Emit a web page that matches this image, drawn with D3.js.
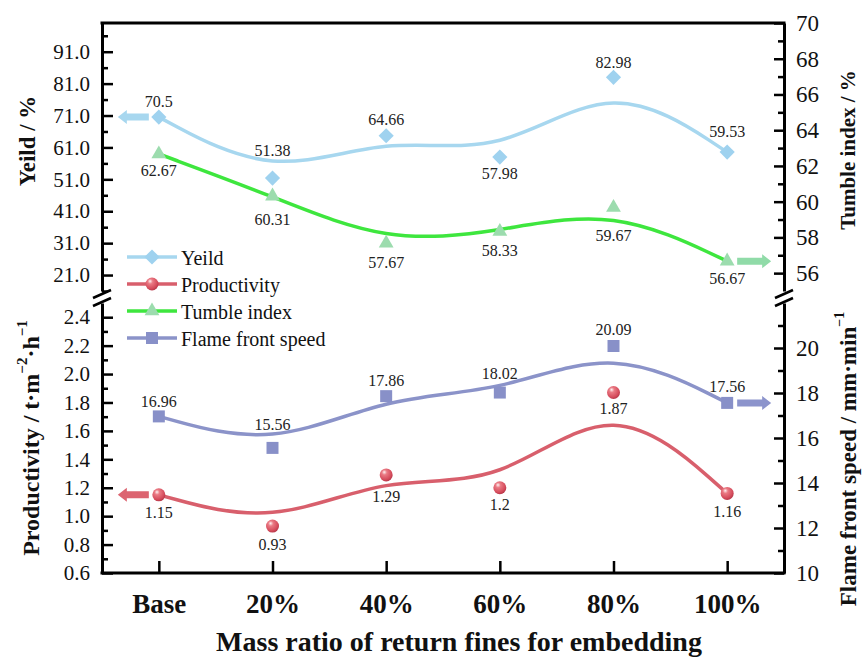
<!DOCTYPE html>
<html>
<head>
<meta charset="utf-8">
<script src="https://cdn.jsdelivr.net/npm/d3@7"></script>
<style>
body{ margin:0; background:#fff; }
svg{ font-family:"Liberation Serif","Times New Roman",serif; }
</style>
</head>
<body>
<svg width="862" height="657"></svg>
<script>
// data
var categories  = ["Base", "20%", "40%", "60%", "80%", "100%"];
var yeild_vals  = [70.5, 51.38, 64.66, 57.98, 82.98, 59.53];
var prod_vals   = [1.15, 0.93, 1.29, 1.2, 1.87, 1.16];
var tumble_vals = [62.67, 60.31, 57.67, 58.33, 59.67, 56.67];
var flame_vals  = [16.96, 15.56, 17.86, 18.02, 20.09, 17.56];

// ticks
var yeild_ticks  = [21, 31, 41, 51, 61, 71, 81, 91];
var yeild_minor  = [16, 26, 36, 46, 56, 66, 76, 86, 96];
var tumble_ticks = [56, 58, 60, 62, 64, 66, 68, 70];
var tumble_minor = [57, 59, 61, 63, 65, 67, 69];
var prod_ticks   = [0.6, 0.8, 1.0, 1.2, 1.4, 1.6, 1.8, 2.0, 2.2, 2.4];
var prod_minor   = [0.7, 0.9, 1.1, 1.3, 1.5, 1.7, 1.9, 2.1, 2.3];
var flame_ticks  = [10, 12, 14, 16, 18, 20];
var flame_minor  = [11, 13, 15, 17, 19, 21];

// layout
var plot_l = 102, plot_r = 784, plot_t = 23, top_b = 291, bot_t = 303, plot_b = 573;

var svg = d3.select("svg");
var defs = svg.append("defs");
var grad = defs.append("radialGradient")
    .attr("id", "ball")
    .attr("cx", "40%").attr("cy", "35%").attr("r", "65%")
    .attr("fx", "35%").attr("fy", "28%")
;
grad.append("stop").attr("offset", "0%").attr("stop-color", "#fff4f4");
grad.append("stop").attr("offset", "30%").attr("stop-color", "#ea7a84");
grad.append("stop").attr("offset", "80%").attr("stop-color", "#d54c5c");
grad.append("stop").attr("offset", "100%").attr("stop-color", "#b8384a");

// scales
var x = d3.scalePoint().domain(categories).range([plot_l, plot_r]).padding(0.5);
var y_yeild  = d3.scaleLinear().domain([16, 100]).range([top_b, plot_t]);
var y_tumble = d3.scaleLinear().domain([55, 70]).range([top_b, plot_t]);
var y_prod   = d3.scaleLinear().domain([0.6, 2.5]).range([plot_b, bot_t]);
var y_flame  = d3.scaleLinear().domain([10, 22]).range([plot_b, bot_t]);

var series = [
    { name: "Yeild", vals: yeild_vals, y: y_yeild, line: "#a7d7ef", fill: "#9fd2ef", shape: "diamond",
      dy: [-16, -28, -16, 16, -15, -21] },
    { name: "Productivity", vals: prod_vals, y: y_prod, line: "#d85f6c", fill: "url(#ball)", shape: "ball",
      dy: [18, 18, 22, 17, 16, 18] },
    { name: "Tumble index", vals: tumble_vals, y: y_tumble, line: "#3ee63e", fill: "#9cdcae", shape: "triangle",
      dy: [17, 23, 19, 19, 28, 17] },
    { name: "Flame front speed", vals: flame_vals, y: y_flame, line: "#8b93c9", fill: "#8890c8", shape: "square",
      dy: [-15, -23, -16, -19, -16, -16] }
];

// axes
function style_axis(g, w){
    g.select(".domain").attr("stroke-width", 3).attr("stroke", "#000");
    g.selectAll(".tick line").attr("stroke-width", w).attr("stroke", "#000");
    g.selectAll(".tick text").attr("fill", "#111");
}
function add_axis(axis, tx, vals, minor, fmt, size, inner){
    var g = svg.append("g")
        .attr("transform", "translate(" + tx + ",0)")
        .call(axis.tickValues(vals).tickSize(-inner).tickSizeOuter(0).tickPadding(12).tickFormat(fmt))
        .style("font-size", size + "px")
        .style("font-family", "'Liberation Serif',serif")
    ;
    style_axis(g, 2.5);
    // minor ticks
    var gm = svg.append("g")
        .attr("transform", "translate(" + tx + ",0)")
        .call(axis.tickValues(minor).tickSize(-6).tickFormat(""))
    ;
    gm.select(".domain").remove();
    gm.selectAll(".tick line").attr("stroke-width", 2.5).attr("stroke", "#000");
}
add_axis(d3.axisLeft(y_yeild), plot_l, yeild_ticks, yeild_minor, d3.format(".1f"), 21, 11);
add_axis(d3.axisLeft(y_prod), plot_l, prod_ticks, prod_minor, d3.format(".1f"), 21, 11);
add_axis(d3.axisRight(y_tumble), plot_r, tumble_ticks, tumble_minor, d3.format("d"), 23, 10);
add_axis(d3.axisRight(y_flame), plot_r, flame_ticks, flame_minor, d3.format("d"), 23, 10);

// x axis
var gx = svg.append("g")
    .attr("transform", "translate(0," + plot_b + ")")
    .call(d3.axisBottom(x).tickSize(-12).tickSizeOuter(0))
    .style("font-size", "27px")
    .style("font-family", "'Liberation Serif',serif")
    .style("font-weight", "bold")
;
style_axis(gx, 2.5);
gx.select(".domain").attr("d", "M" + (plot_l - 1.5) + ",0H" + (plot_r + 1.5));
gx.selectAll(".tick text").attr("y", 40).attr("dy", 0);

// top border
svg.append("line")
    .attr("x1", plot_l - 1.5).attr("x2", plot_r + 1.5)
    .attr("y1", plot_t).attr("y2", plot_t)
    .attr("stroke", "#000").attr("stroke-width", 3)
;

// breaks
[plot_l, plot_r].forEach(function(bx){
    [294, 302].forEach(function(by){
        svg.append("line")
            .attr("x1", bx - 9).attr("y1", by + 4)
            .attr("x2", bx + 9).attr("y2", by - 4)
            .attr("stroke", "#000").attr("stroke-width", 2.5)
        ;
    });
});

// arrows
function draw_arrow(x_tip, x_tail, yy, color){
    var dir = x_tail > x_tip ? 1 : -1;
    var hx = x_tip + dir * 9;
    var pts = [[x_tip, yy], [hx, yy - 7], [hx, yy - 3.5], [x_tail, yy - 3.5],
               [x_tail, yy + 3.5], [hx, yy + 3.5], [hx, yy + 7]];
    svg.append("path")
        .attr("d", "M" + pts.join("L") + "Z")
        .attr("fill", color)
    ;
}
var x0 = x(categories[0]), x5 = x(categories[categories.length - 1]);
draw_arrow(x0 - 41, x0 - 10, y_yeild(yeild_vals[0]), "#a7d7ef");
draw_arrow(x0 - 41, x0 - 10, y_prod(prod_vals[0]), "#dc6470");
draw_arrow(x5 + 44, x5 + 10, y_tumble(tumble_vals[5]), "#90dba8");
draw_arrow(x5 + 44, x5 + 10, y_flame(flame_vals[5]), "#8c94cc");

// markers
function draw_marker(g, shape, cx, cy, fill){
    if(shape == "ball"){
        g.append("circle").attr("cx", cx).attr("cy", cy).attr("r", 6.5).attr("fill", fill);
        return;
    }
    var sym, rot = 0;
    if(shape == "diamond"){ sym = d3.symbol(d3.symbolSquare, 115); rot = 45; }
    if(shape == "triangle"){ sym = d3.symbol(d3.symbolTriangle, 95); }
    if(shape == "square"){ sym = d3.symbol(d3.symbolSquare, 144); }
    g.append("path")
        .attr("d", sym())
        .attr("transform", "translate(" + cx + "," + cy + ") rotate(" + rot + ")")
        .attr("fill", fill)
    ;
}

var line_gen = d3.line().curve(d3.curveBasis);
series.forEach(function(s){
    var pts = s.vals.map(function(v, i){ return [x(categories[i]), s.y(v)]; });
    svg.append("path")
        .attr("d", line_gen(pts))
        .attr("fill", "none")
        .attr("stroke", s.line)
        .attr("stroke-width", 3.5)
    ;
});
series.forEach(function(s){
    var g = svg.append("g");
    s.vals.forEach(function(v, i){
        draw_marker(g, s.shape, x(categories[i]), s.y(v), s.fill);
        g.append("text")
            .attr("x", x(categories[i]))
            .attr("y", s.y(v) + s.dy[i])
            .attr("text-anchor", "middle")
            .attr("dominant-baseline", "central")
            .style("font-size", "16px")
            .attr("fill", "#222")
            .text(String(v))
        ;
    });
});

// legend
var leg_y = [257, 284, 311, 338];
series.forEach(function(s, i){
    var g = svg.append("g").attr("transform", "translate(0," + leg_y[i] + ")");
    g.append("line")
        .attr("x1", 127).attr("x2", 177)
        .attr("stroke", s.line).attr("stroke-width", 3.5)
    ;
    draw_marker(g, s.shape, 152, 0, s.fill);
    g.append("text")
        .attr("x", 181).attr("y", 1)
        .attr("dominant-baseline", "central")
        .style("font-size", "20px")
        .attr("fill", "#111")
        .text(s.name)
    ;
});

// axis titles
function add_title(tx, ty, rot, size, parts){
    var t = svg.append("text")
        .attr("transform", "translate(" + tx + "," + ty + ") rotate(" + rot + ")")
        .attr("text-anchor", "middle")
        .attr("dominant-baseline", "central")
        .style("font-size", size + "px")
        .style("font-weight", "bold")
        .attr("fill", "#111")
    ;
    parts.forEach(function(p){
        var ts = t.append("tspan").text(p[0]);
        if(p[1]){
            ts.style("font-size", Math.round(size * 0.62) + "px").attr("dy", -size * 0.38);
        }else if(p[2]){
            ts.attr("dy", size * 0.38);
        }
    });
}
add_title(27, 141, -90, 23, [["Yeild / %"]]);
add_title(31, 438, -90, 24, [["Productivity / t·m"], ["−2", true], ["·h", false, true], ["−1", true]]);
add_title(848, 150, -90, 21, [["Tumble index / %"]]);
add_title(848, 459, -90, 23, [["Flame front speed / mm·min"], ["−1", true]]);

svg.append("text")
    .attr("x", 459).attr("y", 651)
    .attr("text-anchor", "middle")
    .style("font-size", "28px")
    .style("font-weight", "bold")
    .attr("fill", "#111")
    .text("Mass ratio of return fines for embedding")
;
</script>
</body>
</html>
